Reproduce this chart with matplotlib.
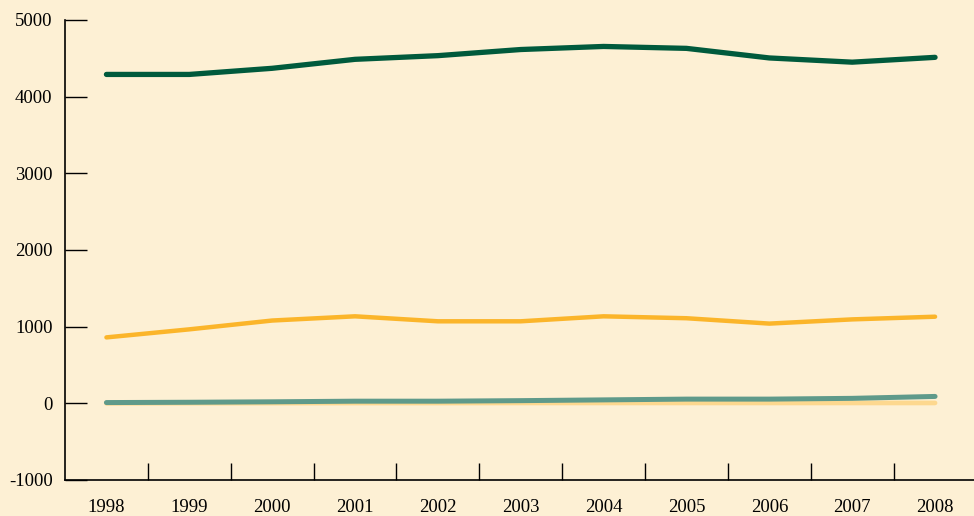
import numpy as np
import matplotlib.pyplot as plt

years = ['1998', '1999', '2000', '2001', '2002', '2003', '2004', '2005', '2006', '2007', '2008']
dark_green = [4290, 4290, 4370, 4487, 4535, 4615, 4655, 4630, 4505, 4450, 4513]
orange = [860, 965, 1080, 1135, 1070, 1070, 1135, 1110, 1040, 1095, 1130]
teal = [10, 14, 20, 28, 28, 35, 45, 55, 55, 65, 90]
pale = [0, 2, 3, 4, 4, 5, 5, 5, 5, 5, 5]

plt.rcParams['font.family'] = ['Liberation Serif', 'DejaVu Serif']
plt.rcParams['axes.unicode_minus'] = False
bg = '#fdf0d4'

fig = plt.figure(figsize=(9.74, 5.16), dpi=100, facecolor=bg)
ax = fig.add_axes([65/974, 36/516, 1 - 65/974, 460/516], facecolor=bg)

x = np.arange(len(years))
ax.plot(x, pale, color='#fdd88f', lw=3.4, solid_capstyle='round', solid_joinstyle='round')
ax.plot(x, teal, color='#5f9a8a', lw=3.6, solid_capstyle='round', solid_joinstyle='round')
ax.plot(x, orange, color='#fbb52a', lw=3.2, solid_capstyle='round', solid_joinstyle='round')
ax.plot(x, dark_green, color='#005a3c', lw=3.8, solid_capstyle='round', solid_joinstyle='round')

ax.set_xlim(-0.5, 10.47)
ax.set_ylim(-1000, 5000)
ax.set_yticks(range(-1000, 5001, 1000))
# major ticks sit between the years, labels on minor ticks at the years
ax.set_xticks(x[:-1] + 0.5, minor=False)
ax.set_xticklabels([])
ax.set_xticks(x, minor=True)
ax.set_xticklabels(years, minor=True)

ax.tick_params(axis='y', direction='in', length=16, width=1, pad=9, labelsize=13.5, colors='black')
ax.tick_params(axis='x', which='major', direction='in', length=12, width=1)
ax.tick_params(axis='x', which='minor', length=0, pad=14, labelsize=13.5)

for s in ['top', 'right']:
    ax.spines[s].set_visible(False)
for s in ['left', 'bottom']:
    ax.spines[s].set_linewidth(1.2)

fig.savefig('out.png', dpi=100, facecolor=bg)
